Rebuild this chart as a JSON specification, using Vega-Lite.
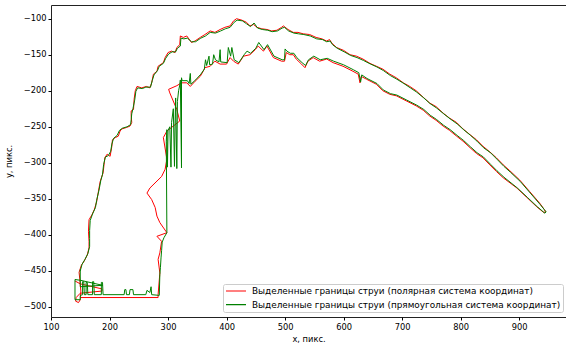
{
"$schema": "https://vega.github.io/schema/vega-lite/v6.json",
"width": 515, "height": 312,
"autosize": {"type": "none"},
"padding": {"left": 51, "top": 5, "right": 0, "bottom": 28},
"config": {
  "view": {"stroke": "#222", "strokeWidth": 1},
  "font": "DejaVu Sans",
  "axis": {"labelFont": "DejaVu Sans", "labelFontSize": 8.3, "labelColor": "#000", "tickColor": "#000", "tickSize": 3, "domain": false, "grid": false, "labelFlush": false, "titleFont": "DejaVu Sans", "titleFontSize": 8.3, "titleFontWeight": "normal", "titleColor": "#000", "labelPadding": 2}
},
"data": {"values": [
{"s":"p","x":141,"y":-464},{"s":"p","x":150,"y":-468},{"s":"p","x":187,"y":-475},{"s":"p","x":187,"y":-478},{"s":"p","x":150,"y":-481},{"s":"p","x":143,"y":-487},{"s":"p","x":142,"y":-492},{"s":"p","x":147,"y":-494},{"s":"p","x":150,"y":-490},{"s":"p","x":151,"y":-478},{"s":"p","x":149,"y":-460},{"s":"p","x":148,"y":-452},{"s":"p","x":152,"y":-442},{"s":"p","x":157,"y":-436},{"s":"p","x":162,"y":-428},{"s":"p","x":165,"y":-418},{"s":"p","x":165,"y":-409},{"s":"p","x":164,"y":-395},{"s":"p","x":165,"y":-379},{"s":"p","x":170,"y":-372},{"s":"p","x":174,"y":-365},{"s":"p","x":178,"y":-354},{"s":"p","x":181,"y":-340},{"s":"p","x":184,"y":-326},{"s":"p","x":189,"y":-314},{"s":"p","x":191,"y":-300},{"s":"p","x":192,"y":-293},{"s":"p","x":196,"y":-288},{"s":"p","x":201,"y":-291},{"s":"p","x":204,"y":-277},{"s":"p","x":205,"y":-268},{"s":"p","x":210,"y":-265},{"s":"p","x":215,"y":-263},{"s":"p","x":218,"y":-256},{"s":"p","x":221,"y":-253},{"s":"p","x":229,"y":-251},{"s":"p","x":235,"y":-249},{"s":"p","x":238,"y":-244},{"s":"p","x":237,"y":-235},{"s":"p","x":237,"y":-228},{"s":"p","x":241,"y":-226},{"s":"p","x":242,"y":-212},{"s":"p","x":244,"y":-200},{"s":"p","x":247,"y":-194},{"s":"p","x":255,"y":-196},{"s":"p","x":263,"y":-194},{"s":"p","x":269,"y":-196},{"s":"p","x":272,"y":-189},{"s":"p","x":275,"y":-177},{"s":"p","x":281,"y":-173},{"s":"p","x":283,"y":-166},{"s":"p","x":292,"y":-161},{"s":"p","x":295,"y":-154},{"s":"p","x":300,"y":-147},{"s":"p","x":306,"y":-145},{"s":"p","x":312,"y":-147},{"s":"p","x":315,"y":-140},{"s":"p","x":320,"y":-136},{"s":"p","x":321,"y":-124},{"s":"p","x":326,"y":-126},{"s":"p","x":332,"y":-124},{"s":"p","x":340,"y":-133},{"s":"p","x":346,"y":-131},{"s":"p","x":355,"y":-126},{"s":"p","x":363,"y":-122},{"s":"p","x":372,"y":-117},{"s":"p","x":380,"y":-119},{"s":"p","x":389,"y":-115},{"s":"p","x":397,"y":-112},{"s":"p","x":406,"y":-110},{"s":"p","x":412,"y":-103},{"s":"p","x":417,"y":-100},{"s":"p","x":426,"y":-102},{"s":"p","x":434,"y":-105},{"s":"p","x":440,"y":-110},{"s":"p","x":446,"y":-108},{"s":"p","x":452,"y":-112},{"s":"p","x":460,"y":-114},{"s":"p","x":469,"y":-115},{"s":"p","x":477,"y":-117},{"s":"p","x":486,"y":-116},{"s":"p","x":494,"y":-112},{"s":"p","x":497,"y":-110},{"s":"p","x":505,"y":-115},{"s":"p","x":514,"y":-119},{"s":"p","x":522,"y":-119},{"s":"p","x":531,"y":-121},{"s":"p","x":542,"y":-122},{"s":"p","x":553,"y":-126},{"s":"p","x":563,"y":-128},{"s":"p","x":571,"y":-131},{"s":"p","x":576,"y":-129},{"s":"p","x":580,"y":-134},{"s":"p","x":588,"y":-140},{"s":"p","x":600,"y":-144},{"s":"p","x":611,"y":-150},{"s":"p","x":622,"y":-152},{"s":"p","x":633,"y":-156},{"s":"p","x":645,"y":-162},{"s":"p","x":656,"y":-166},{"s":"p","x":667,"y":-170},{"s":"p","x":679,"y":-177},{"s":"p","x":690,"y":-182},{"s":"p","x":702,"y":-189},{"s":"p","x":713,"y":-194},{"s":"p","x":724,"y":-200},{"s":"p","x":736,"y":-209},{"s":"p","x":747,"y":-217},{"s":"p","x":758,"y":-222},{"s":"p","x":770,"y":-231},{"s":"p","x":781,"y":-238},{"s":"p","x":793,"y":-244},{"s":"p","x":804,"y":-253},{"s":"p","x":816,"y":-261},{"s":"p","x":827,"y":-268},{"s":"p","x":838,"y":-277},{"s":"p","x":850,"y":-285},{"s":"p","x":861,"y":-293},{"s":"p","x":873,"y":-303},{"s":"p","x":884,"y":-311},{"s":"p","x":901,"y":-324},{"s":"p","x":918,"y":-340},{"s":"p","x":935,"y":-356},{"s":"p","x":943,"y":-365},{"s":"p","x":945,"y":-368},{"s":"p","x":942,"y":-369},{"s":"p","x":930,"y":-361},{"s":"p","x":913,"y":-348},{"s":"p","x":896,"y":-335},{"s":"p","x":873,"y":-321},{"s":"p","x":861,"y":-312},{"s":"p","x":850,"y":-303},{"s":"p","x":838,"y":-293},{"s":"p","x":827,"y":-287},{"s":"p","x":816,"y":-279},{"s":"p","x":804,"y":-270},{"s":"p","x":793,"y":-263},{"s":"p","x":781,"y":-255},{"s":"p","x":770,"y":-249},{"s":"p","x":758,"y":-241},{"s":"p","x":747,"y":-235},{"s":"p","x":736,"y":-227},{"s":"p","x":724,"y":-221},{"s":"p","x":707,"y":-214},{"s":"p","x":690,"y":-207},{"s":"p","x":679,"y":-205},{"s":"p","x":667,"y":-200},{"s":"p","x":656,"y":-191},{"s":"p","x":639,"y":-184},{"s":"p","x":630,"y":-180},{"s":"p","x":628,"y":-189},{"s":"p","x":625,"y":-177},{"s":"p","x":616,"y":-173},{"s":"p","x":599,"y":-166},{"s":"p","x":582,"y":-161},{"s":"p","x":571,"y":-156},{"s":"p","x":559,"y":-159},{"s":"p","x":548,"y":-154},{"s":"p","x":539,"y":-159},{"s":"p","x":534,"y":-168},{"s":"p","x":528,"y":-163},{"s":"p","x":519,"y":-156},{"s":"p","x":514,"y":-150},{"s":"p","x":508,"y":-150},{"s":"p","x":502,"y":-147},{"s":"p","x":499,"y":-159},{"s":"p","x":494,"y":-159},{"s":"p","x":480,"y":-154},{"s":"p","x":469,"y":-138},{"s":"p","x":463,"y":-145},{"s":"p","x":454,"y":-138},{"s":"p","x":449,"y":-143},{"s":"p","x":440,"y":-150},{"s":"p","x":429,"y":-152},{"s":"p","x":420,"y":-163},{"s":"p","x":412,"y":-159},{"s":"p","x":406,"y":-154},{"s":"p","x":400,"y":-163},{"s":"p","x":389,"y":-163},{"s":"p","x":380,"y":-159},{"s":"p","x":372,"y":-166},{"s":"p","x":363,"y":-168},{"s":"p","x":360,"y":-173},{"s":"p","x":355,"y":-180},{"s":"p","x":346,"y":-187},{"s":"p","x":338,"y":-194},{"s":"p","x":332,"y":-189},{"s":"p","x":323,"y":-189},{"s":"p","x":315,"y":-193},{"s":"p","x":301,"y":-198},{"s":"p","x":303,"y":-203},{"s":"p","x":315,"y":-226},{"s":"p","x":320,"y":-242},{"s":"p","x":309,"y":-249},{"s":"p","x":298,"y":-256},{"s":"p","x":292,"y":-265},{"s":"p","x":298,"y":-295},{"s":"p","x":295,"y":-309},{"s":"p","x":289,"y":-319},{"s":"p","x":269,"y":-335},{"s":"p","x":264,"y":-342},{"s":"p","x":272,"y":-351},{"s":"p","x":278,"y":-362},{"s":"p","x":281,"y":-374},{"s":"p","x":286,"y":-383},{"s":"p","x":298,"y":-397},{"s":"p","x":281,"y":-402},{"s":"p","x":289,"y":-409},{"s":"p","x":286,"y":-425},{"s":"p","x":283,"y":-434},{"s":"p","x":286,"y":-453},{"s":"p","x":283,"y":-483},{"s":"p","x":283,"y":-487},{"s":"p","x":150,"y":-487},
{"s":"r","x":150,"y":-450},{"s":"r","x":153,"y":-441},{"s":"r","x":158,"y":-434},{"s":"r","x":163,"y":-426},{"s":"r","x":166,"y":-416},{"s":"r","x":166,"y":-405},{"s":"r","x":166,"y":-394},{"s":"r","x":167,"y":-380},{"s":"r","x":171,"y":-371},{"s":"r","x":176,"y":-362},{"s":"r","x":178,"y":-352},{"s":"r","x":182,"y":-338},{"s":"r","x":185,"y":-325},{"s":"r","x":188,"y":-316},{"s":"r","x":190,"y":-302},{"s":"r","x":193,"y":-292},{"s":"r","x":198,"y":-290},{"s":"r","x":202,"y":-284},{"s":"r","x":204,"y":-274},{"s":"r","x":207,"y":-266},{"s":"r","x":213,"y":-262},{"s":"r","x":217,"y":-255},{"s":"r","x":222,"y":-252},{"s":"r","x":230,"y":-250},{"s":"r","x":236,"y":-247},{"s":"r","x":237,"y":-240},{"s":"r","x":238,"y":-232},{"s":"r","x":240,"y":-225},{"s":"r","x":243,"y":-213},{"s":"r","x":245,"y":-201},{"s":"r","x":248,"y":-196},{"s":"r","x":256,"y":-197},{"s":"r","x":262,"y":-195},{"s":"r","x":270,"y":-195},{"s":"r","x":273,"y":-186},{"s":"r","x":276,"y":-178},{"s":"r","x":282,"y":-172},{"s":"r","x":285,"y":-166},{"s":"r","x":292,"y":-162},{"s":"r","x":296,"y":-155},{"s":"r","x":301,"y":-149},{"s":"r","x":307,"y":-146},{"s":"r","x":313,"y":-146},{"s":"r","x":316,"y":-141},{"s":"r","x":321,"y":-138},{"s":"r","x":322,"y":-127},{"s":"r","x":327,"y":-128},{"s":"r","x":333,"y":-127},{"s":"r","x":340,"y":-132},{"s":"r","x":347,"y":-132},{"s":"r","x":356,"y":-127},{"s":"r","x":364,"y":-124},{"s":"r","x":372,"y":-119},{"s":"r","x":381,"y":-120},{"s":"r","x":390,"y":-117},{"s":"r","x":398,"y":-114},{"s":"r","x":406,"y":-112},{"s":"r","x":413,"y":-105},{"s":"r","x":418,"y":-102},{"s":"r","x":427,"y":-103},{"s":"r","x":434,"y":-107},{"s":"r","x":441,"y":-111},{"s":"r","x":447,"y":-106},{"s":"r","x":453,"y":-113},{"s":"r","x":461,"y":-115},{"s":"r","x":470,"y":-116},{"s":"r","x":478,"y":-118},{"s":"r","x":487,"y":-117},{"s":"r","x":495,"y":-113},{"s":"r","x":499,"y":-112},{"s":"r","x":506,"y":-117},{"s":"r","x":515,"y":-120},{"s":"r","x":523,"y":-121},{"s":"r","x":532,"y":-122},{"s":"r","x":543,"y":-124},{"s":"r","x":554,"y":-128},{"s":"r","x":564,"y":-129},{"s":"r","x":571,"y":-132},{"s":"r","x":577,"y":-131},{"s":"r","x":581,"y":-136},{"s":"r","x":589,"y":-141},{"s":"r","x":601,"y":-146},{"s":"r","x":612,"y":-151},{"s":"r","x":623,"y":-154},{"s":"r","x":634,"y":-158},{"s":"r","x":646,"y":-163},{"s":"r","x":657,"y":-167},{"s":"r","x":668,"y":-172},{"s":"r","x":680,"y":-179},{"s":"r","x":691,"y":-184},{"s":"r","x":703,"y":-190},{"s":"r","x":714,"y":-196},{"s":"r","x":725,"y":-202},{"s":"r","x":737,"y":-210},{"s":"r","x":748,"y":-218},{"s":"r","x":759,"y":-224},{"s":"r","x":771,"y":-232},{"s":"r","x":782,"y":-239},{"s":"r","x":794,"y":-246},{"s":"r","x":805,"y":-254},{"s":"r","x":817,"y":-262},{"s":"r","x":828,"y":-270},{"s":"r","x":839,"y":-279},{"s":"r","x":851,"y":-286},{"s":"r","x":862,"y":-295},{"s":"r","x":874,"y":-305},{"s":"r","x":885,"y":-313},{"s":"r","x":902,"y":-326},{"s":"r","x":919,"y":-342},{"s":"r","x":936,"y":-358},{"s":"r","x":943,"y":-365},{"s":"r","x":946,"y":-368},{"s":"r","x":944,"y":-370},{"s":"r","x":931,"y":-361},{"s":"r","x":914,"y":-348},{"s":"r","x":897,"y":-335},{"s":"r","x":874,"y":-320},{"s":"r","x":862,"y":-311},{"s":"r","x":851,"y":-302},{"s":"r","x":839,"y":-292},{"s":"r","x":828,"y":-286},{"s":"r","x":817,"y":-278},{"s":"r","x":805,"y":-269},{"s":"r","x":794,"y":-262},{"s":"r","x":782,"y":-254},{"s":"r","x":771,"y":-248},{"s":"r","x":759,"y":-240},{"s":"r","x":748,"y":-234},{"s":"r","x":737,"y":-226},{"s":"r","x":725,"y":-220},{"s":"r","x":708,"y":-213},{"s":"r","x":691,"y":-206},{"s":"r","x":680,"y":-204},{"s":"r","x":668,"y":-199},{"s":"r","x":657,"y":-190},{"s":"r","x":640,"y":-183},{"s":"r","x":631,"y":-178},{"s":"r","x":629,"y":-188},{"s":"r","x":626,"y":-175},{"s":"r","x":617,"y":-171},{"s":"r","x":600,"y":-164},{"s":"r","x":583,"y":-159},{"s":"r","x":572,"y":-155},{"s":"r","x":560,"y":-157},{"s":"r","x":549,"y":-152},{"s":"r","x":540,"y":-157},{"s":"r","x":535,"y":-165},{"s":"r","x":529,"y":-161},{"s":"r","x":520,"y":-154},{"s":"r","x":515,"y":-148},{"s":"r","x":509,"y":-148},{"s":"r","x":503,"y":-145},{"s":"r","x":500,"y":-142},{"s":"r","x":499,"y":-157},{"s":"r","x":495,"y":-157},{"s":"r","x":481,"y":-152},{"s":"r","x":470,"y":-136},{"s":"r","x":464,"y":-143},{"s":"r","x":455,"y":-133},{"s":"r","x":450,"y":-141},{"s":"r","x":441,"y":-148},{"s":"r","x":435,"y":-145},{"s":"r","x":430,"y":-150},{"s":"r","x":421,"y":-161},{"s":"r","x":413,"y":-157},{"s":"r","x":409,"y":-140},{"s":"r","x":407,"y":-152},{"s":"r","x":403,"y":-140},{"s":"r","x":401,"y":-161},{"s":"r","x":390,"y":-160},{"s":"r","x":389,"y":-143},{"s":"r","x":387,"y":-160},{"s":"r","x":381,"y":-157},{"s":"r","x":378,"y":-150},{"s":"r","x":376,"y":-163},{"s":"r","x":371,"y":-164},{"s":"r","x":370,"y":-152},{"s":"r","x":366,"y":-165},{"s":"r","x":364,"y":-157},{"s":"r","x":362,"y":-170},{"s":"r","x":356,"y":-177},{"s":"r","x":347,"y":-185},{"s":"r","x":339,"y":-191},{"s":"r","x":338,"y":-176},{"s":"r","x":336,"y":-190},{"s":"r","x":333,"y":-186},{"s":"r","x":324,"y":-186},{"s":"r","x":323,"y":-182},{"s":"r","x":323,"y":-307},{"s":"r","x":321,"y":-185},{"s":"r","x":320,"y":-192},{"s":"r","x":318,"y":-200},{"s":"r","x":316,"y":-215},{"s":"r","x":315,"y":-308},{"s":"r","x":313,"y":-210},{"s":"r","x":312,"y":-247},{"s":"r","x":311,"y":-305},{"s":"r","x":309,"y":-225},{"s":"r","x":306,"y":-244},{"s":"r","x":305,"y":-306},{"s":"r","x":303,"y":-250},{"s":"r","x":300,"y":-255},{"s":"r","x":299,"y":-306},{"s":"r","x":298,"y":-254},{"s":"r","x":297,"y":-270},{"s":"r","x":298,"y":-397},{"s":"r","x":293,"y":-404},{"s":"r","x":290,"y":-410},{"s":"r","x":289,"y":-422},{"s":"r","x":288,"y":-432},{"s":"r","x":287,"y":-445},{"s":"r","x":286,"y":-455},{"s":"r","x":285,"y":-484},{"s":"r","x":272,"y":-483},{"s":"r","x":271,"y":-472},{"s":"r","x":269,"y":-480},{"s":"r","x":264,"y":-477},{"s":"r","x":262,"y":-483},{"s":"r","x":241,"y":-483},{"s":"r","x":240,"y":-476},{"s":"r","x":235,"y":-476},{"s":"r","x":234,"y":-483},{"s":"r","x":229,"y":-483},{"s":"r","x":228,"y":-476},{"s":"r","x":226,"y":-476},{"s":"r","x":225,"y":-483},{"s":"r","x":189,"y":-483},{"s":"r","x":188,"y":-466},{"s":"r","x":186,"y":-466},{"s":"r","x":186,"y":-483},{"s":"r","x":174,"y":-483},{"s":"r","x":173,"y":-465},{"s":"r","x":171,"y":-465},{"s":"r","x":171,"y":-483},{"s":"r","x":163,"y":-483},{"s":"r","x":162,"y":-466},{"s":"r","x":160,"y":-466},{"s":"r","x":160,"y":-483},{"s":"r","x":157,"y":-483},{"s":"r","x":156,"y":-465},{"s":"r","x":154,"y":-465},{"s":"r","x":154,"y":-483},{"s":"r","x":150,"y":-484},{"s":"r","x":150,"y":-490},{"s":"r","x":141,"y":-490},{"s":"r","x":141,"y":-462},{"s":"r","x":150,"y":-463},{"s":"r","x":188,"y":-470},{"s":"r","x":150,"y":-472},{"s":"r","x":150,"y":-448}
]},
"mark": {"type": "line", "strokeWidth": 1, "clip": true},
"encoding": {
  "x": {"field": "x", "type": "quantitative", "scale": {"domain": [100, 980], "nice": false, "zero": false}, "axis": {"values": [100,200,300,400,500,600,700,800,900], "title": "x, пикс.", "titlePadding": 4}},
  "y": {"field": "y", "type": "quantitative", "scale": {"domain": [-514, -81], "nice": false, "zero": false}, "axis": {"values": [-500,-450,-400,-350,-300,-250,-200,-150,-100], "labelExpr": "replace(datum.label, '-', '−')", "title": "y, пикс.", "titlePadding": 10}},
  "color": {"field": "s", "type": "nominal", "scale": {"domain": ["p", "r"], "range": ["#ff0000", "#008000"]}, "legend": {"orient": "none", "legendX": 172, "legendY": 279, "title": null, "symbolType": "stroke", "symbolSize": 400, "symbolStrokeWidth": 1.2, "labelFont": "DejaVu Sans", "labelFontSize": 8.9, "labelColor": "#000", "labelLimit": 500, "clipHeight": 10, "strokeColor": "#ccc", "fillColor": "#fff", "cornerRadius": 2, "padding": 2, "rowPadding": 3.7, "labelOffset": 5, "labelExpr": "datum.label == 'p' ? 'Выделенные границы струи (полярная система координат)' : 'Выделенные границы струи (прямоугольная система координат)'"}},
  "order": {"value": null}
}
}
